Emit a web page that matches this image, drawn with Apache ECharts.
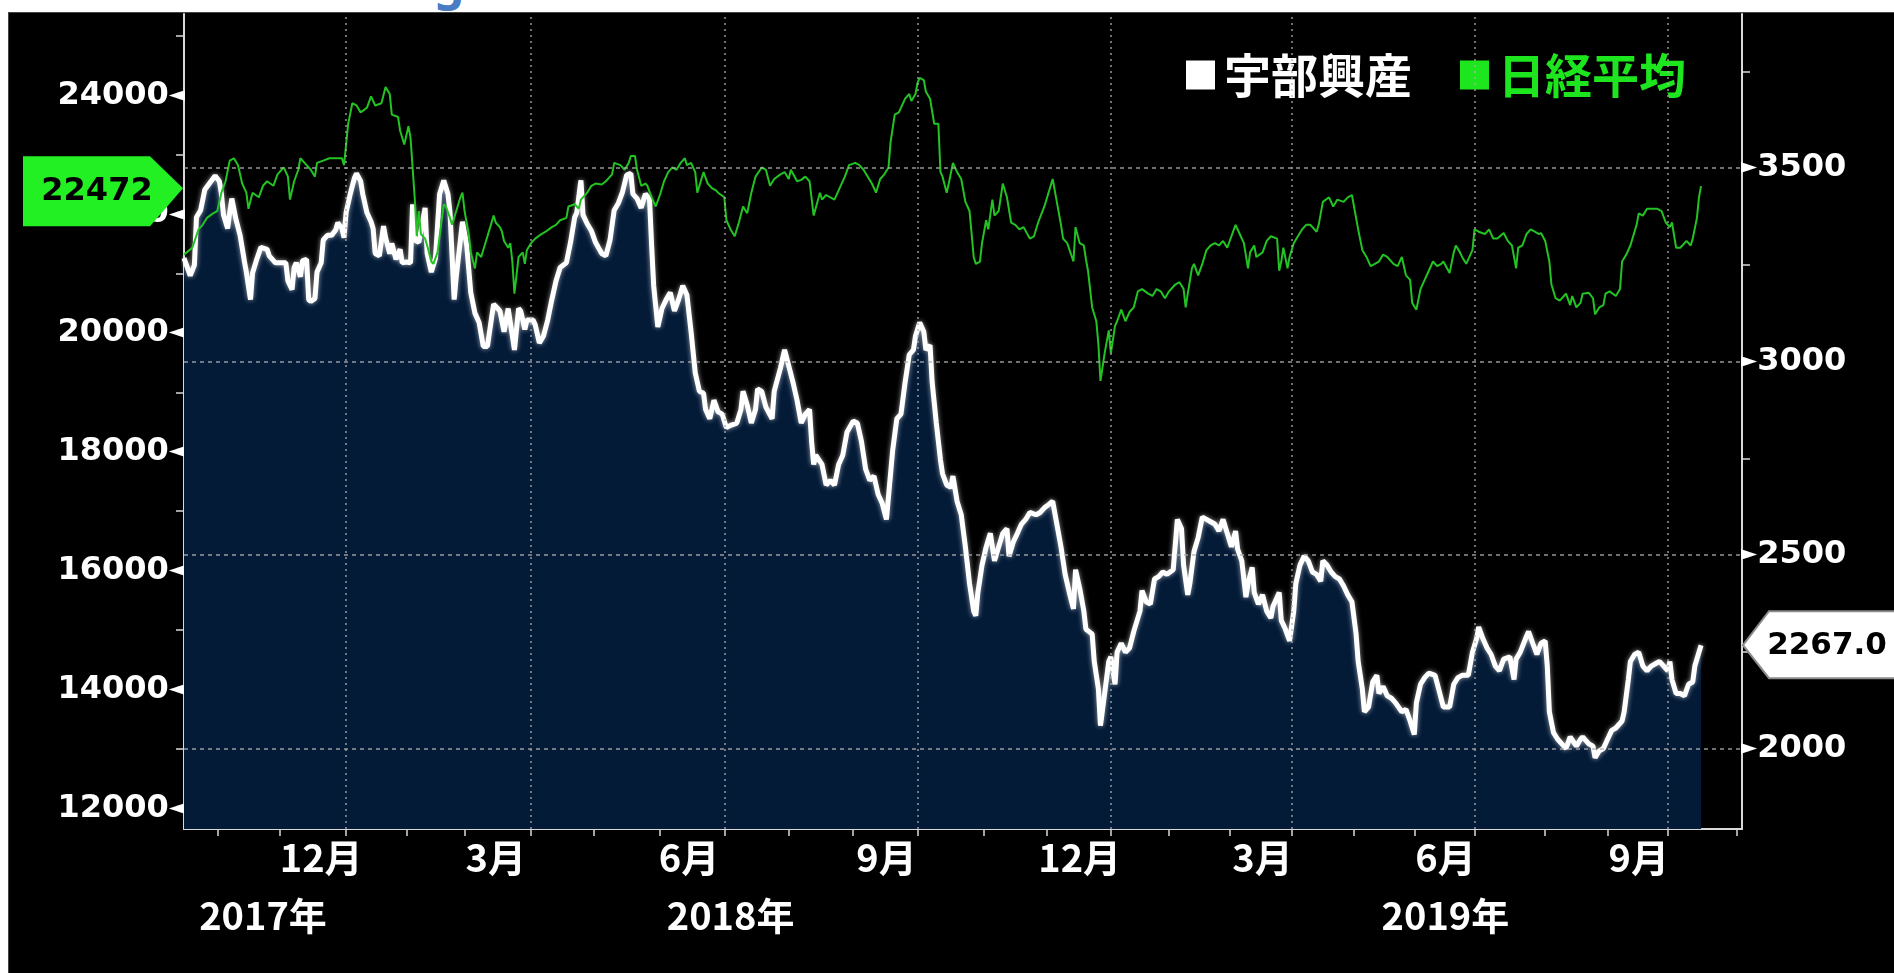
<!DOCTYPE html>
<html><head><meta charset="utf-8">
<script src="https://cdn.jsdelivr.net/npm/echarts@6/dist/echarts.min.js"></script>
<style>
html,body{margin:0;padding:0;background:#fff;overflow:hidden;width:1894px;height:973px}
#ttl{position:absolute;left:434px;top:-52px;font:bold 48px "Noto Sans";color:#4a7cc4;line-height:normal}
#bg{position:absolute;left:9px;top:13px;width:1885px;height:960px;background:#000;box-shadow:0 0 0 1px #444}
#chart{position:absolute;left:0;top:0;width:1894px;height:973px}
</style></head>
<body>
<div id="ttl">g</div>
<div id="bg"></div>
<div id="chart"></div>
<script>
// ---- data ----
const ube = [
['2017-10-16',3267],['2017-10-19',3222],['2017-10-21',3249],['2017-10-22',3373],['2017-10-24',3391],['2017-10-26',3444],['2017-10-29',3466],['2017-10-31',3480],
['2017-11-02',3466],['2017-11-03',3433],['2017-11-04',3379],['2017-11-06',3344],['2017-11-07',3385],['2017-11-08',3421],['2017-11-10',3367],['2017-11-12',3326],
['2017-11-14',3261],['2017-11-15',3231],['2017-11-17',3160],['2017-11-18',3229],['2017-11-20',3264],['2017-11-22',3295],['2017-11-25',3290],['2017-11-26',3273],
['2017-11-29',3255],['2017-12-01',3255],['2017-12-04',3255],['2017-12-05',3208],['2017-12-07',3186],['2017-12-08',3243],['2017-12-09',3255],['2017-12-11',3219],
['2017-12-12',3260],['2017-12-14',3264],['2017-12-15',3160],['2017-12-16',3155],['2017-12-18',3163],['2017-12-19',3231],['2017-12-21',3255],['2017-12-22',3314],
['2017-12-24',3326],['2017-12-26',3326],['2017-12-28',3340],['2017-12-29',3359],['2017-12-31',3344],['2018-01-01',3320],['2018-01-02',3385],['2018-01-04',3433],
['2018-01-06',3474],['2018-01-07',3486],['2018-01-09',3466],['2018-01-10',3433],['2018-01-12',3385],['2018-01-14',3361],['2018-01-15',3344],['2018-01-16',3279],
['2018-01-18',3273],['2018-01-20',3350],['2018-01-21',3320],['2018-01-23',3279],['2018-01-24',3305],['2018-01-26',3264],['2018-01-28',3290],['2018-01-29',3255],
['2018-01-31',3257],['2018-02-02',3255],['2018-02-03',3406],['2018-02-04',3314],['2018-02-06',3308],['2018-02-09',3397],['2018-02-10',3279],['2018-02-12',3231],
['2018-02-14',3267],['2018-02-16',3433],['2018-02-18',3468],['2018-02-20',3433],['2018-02-21',3385],['2018-02-23',3160],['2018-02-24',3219],['2018-02-27',3361],
['2018-03-01',3302],['2018-03-03',3178],['2018-03-05',3125],['2018-03-07',3101],['2018-03-09',3039],['2018-03-11',3039],['2018-03-13',3113],['2018-03-14',3148],
['2018-03-16',3137],['2018-03-17',3131],['2018-03-19',3077],['2018-03-21',3137],['2018-03-23',3066],['2018-03-24',3030],['2018-03-26',3137],['2018-03-27',3131],
['2018-03-29',3083],['2018-03-30',3107],['2018-04-02',3107],['2018-04-03',3095],['2018-04-05',3048],['2018-04-07',3066],['2018-04-09',3107],['2018-04-11',3160],
['2018-04-13',3208],['2018-04-15',3243],['2018-04-18',3255],['2018-04-20',3308],['2018-04-22',3373],['2018-04-23',3385],['2018-04-25',3468],['2018-04-26',3379],
['2018-04-28',3356],['2018-04-30',3338],['2018-05-02',3308],['2018-05-05',3279],['2018-05-07',3273],['2018-05-09',3314],['2018-05-11',3391],['2018-05-13',3409],
['2018-05-15',3438],['2018-05-17',3482],['2018-05-19',3486],['2018-05-20',3433],['2018-05-22',3421],['2018-05-24',3397],['2018-05-26',3433],['2018-05-28',3421],
['2018-05-29',3302],['2018-05-30',3196],['2018-06-01',3089],['2018-06-03',3137],['2018-06-05',3160],['2018-06-07',3178],['2018-06-09',3131],['2018-06-11',3160],
['2018-06-13',3196],['2018-06-15',3172],['2018-06-17',3077],['2018-06-19',2971],['2018-06-21',2923],['2018-06-23',2918],['2018-06-24',2876],['2018-06-26',2852],
['2018-06-28',2900],['2018-06-30',2870],['2018-07-02',2864],['2018-07-04',2829],['2018-07-06',2835],['2018-07-09',2841],['2018-07-11',2876],['2018-07-12',2923],
['2018-07-14',2888],['2018-07-16',2841],['2018-07-18',2876],['2018-07-19',2929],['2018-07-21',2923],['2018-07-23',2882],['2018-07-26',2852],['2018-07-27',2923],
['2018-07-30',2983],['2018-08-01',3030],['2018-08-03',2989],['2018-08-05',2947],['2018-08-07',2900],['2018-08-09',2841],['2018-08-11',2864],['2018-08-13',2876],
['2018-08-14',2793],['2018-08-15',2734],['2018-08-16',2758],['2018-08-19',2734],['2018-08-21',2681],['2018-08-23',2693],['2018-08-25',2681],['2018-08-27',2734],
['2018-08-29',2758],['2018-08-31',2817],['2018-09-03',2846],['2018-09-05',2841],['2018-09-07',2793],['2018-09-09',2722],['2018-09-11',2693],['2018-09-13',2704],
['2018-09-15',2657],['2018-09-17',2633],['2018-09-19',2592],['2018-09-20',2651],['2018-09-22',2770],['2018-09-24',2852],['2018-09-26',2864],['2018-09-28',2947],
['2018-09-30',3018],['2018-10-02',3030],['2018-10-03',3066],['2018-10-05',3101],['2018-10-07',3077],['2018-10-08',3030],['2018-10-10',3042],['2018-10-11',2947],
['2018-10-13',2841],['2018-10-15',2746],['2018-10-16',2710],['2018-10-18',2681],['2018-10-20',2675],['2018-10-21',2704],['2018-10-23',2639],['2018-10-25',2604],
['2018-10-27',2521],['2018-10-29',2426],['2018-10-31',2355],['2018-11-01',2343],['2018-11-02',2403],['2018-11-04',2474],['2018-11-06',2521],['2018-11-08',2556],
['2018-11-10',2485],['2018-11-12',2521],['2018-11-14',2556],['2018-11-16',2568],['2018-11-17',2497],['2018-11-19',2533],['2018-11-21',2556],['2018-11-23',2580],
['2018-11-25',2592],['2018-11-27',2610],['2018-11-30',2604],['2018-12-02',2610],['2018-12-04',2622],['2018-12-06',2630],['2018-12-08',2639],['2018-12-10',2580],
['2018-12-12',2521],['2018-12-14',2450],['2018-12-16',2403],['2018-12-18',2361],['2018-12-19',2462],['2018-12-21',2414],['2018-12-23',2355],['2018-12-24',2308],
['2018-12-27',2296],['2018-12-28',2225],['2018-12-30',2154],['2018-12-31',2059],['2019-01-02',2142],['2019-01-04',2225],['2019-01-05',2237],['2019-01-07',2166],
['2019-01-08',2249],['2019-01-10',2272],['2019-01-12',2249],['2019-01-14',2260],['2019-01-16',2302],['2019-01-19',2355],['2019-01-20',2408],['2019-01-22',2379],
['2019-01-24',2373],['2019-01-26',2438],['2019-01-28',2444],['2019-01-30',2456],['2019-02-01',2450],['2019-02-04',2462],['2019-02-06',2592],['2019-02-08',2568],
['2019-02-09',2474],['2019-02-11',2397],['2019-02-12',2426],['2019-02-14',2509],['2019-02-16',2545],['2019-02-18',2598],['2019-02-20',2592],['2019-02-22',2586],
['2019-02-24',2580],['2019-02-26',2562],['2019-02-28',2592],['2019-03-02',2556],['2019-03-04',2521],['2019-03-06',2562],['2019-03-07',2515],['2019-03-09',2485],
['2019-03-11',2391],['2019-03-12',2426],['2019-03-14',2468],['2019-03-15',2403],['2019-03-17',2373],['2019-03-19',2397],['2019-03-21',2355],['2019-03-23',2337],
['2019-03-24',2367],['2019-03-27',2403],['2019-03-28',2331],['2019-03-30',2308],['2019-04-01',2278],['2019-04-03',2355],['2019-04-04',2426],['2019-04-06',2474],
['2019-04-08',2497],['2019-04-10',2485],['2019-04-12',2456],['2019-04-14',2450],['2019-04-16',2432],['2019-04-17',2485],['2019-04-19',2474],['2019-04-21',2456],
['2019-04-23',2444],['2019-04-25',2438],['2019-04-27',2420],['2019-04-29',2397],['2019-05-01',2379],['2019-05-03',2296],['2019-05-04',2225],['2019-05-06',2154],
['2019-05-07',2095],['2019-05-09',2107],['2019-05-11',2172],['2019-05-13',2189],['2019-05-14',2142],['2019-05-16',2160],['2019-05-18',2136],['2019-05-20',2130],
['2019-05-22',2118],['2019-05-25',2095],['2019-05-27',2101],['2019-05-29',2071],['2019-05-31',2036],['2019-06-01',2118],['2019-06-03',2166],['2019-06-05',2183],
['2019-06-07',2195],['2019-06-10',2189],['2019-06-12',2148],['2019-06-14',2107],['2019-06-17',2107],['2019-06-19',2166],['2019-06-21',2183],['2019-06-23',2189],
['2019-06-26',2189],['2019-06-28',2249],['2019-06-30',2284],['2019-07-01',2314],['2019-07-03',2284],['2019-07-05',2260],['2019-07-07',2243],['2019-07-09',2213],
['2019-07-11',2201],['2019-07-13',2231],['2019-07-16',2237],['2019-07-18',2178],['2019-07-19',2231],['2019-07-21',2249],['2019-07-24',2290],['2019-07-25',2302],
['2019-07-27',2272],['2019-07-29',2243],['2019-07-31',2272],['2019-08-02',2278],['2019-08-03',2213],['2019-08-04',2095],['2019-08-06',2041],['2019-08-08',2024],
['2019-08-10',2012],['2019-08-12',2000],['2019-08-14',2030],['2019-08-17',2006],['2019-08-19',2024],['2019-08-20',2030],['2019-08-23',2012],['2019-08-25',2006],
['2019-08-26',1976],['2019-08-28',1994],['2019-08-30',2000],['2019-09-01',2024],['2019-09-03',2047],['2019-09-05',2053],['2019-09-08',2071],['2019-09-09',2095],
['2019-09-11',2178],['2019-09-12',2225],['2019-09-14',2243],['2019-09-16',2249],['2019-09-18',2213],['2019-09-20',2201],['2019-09-22',2213],['2019-09-24',2219],
['2019-09-26',2225],['2019-09-28',2213],['2019-09-30',2201],['2019-10-01',2225],['2019-10-02',2178],['2019-10-04',2142],['2019-10-06',2142],['2019-10-08',2136],
['2019-10-10',2166],['2019-10-12',2172],['2019-10-13',2213],['2019-10-16',2267]
];
const nikkei = [
['2017-10-16',21319],['2017-10-20',21435],['2017-10-23',21744],['2017-10-25',21821],['2017-10-27',21937],['2017-10-30',22014],['2017-11-01',22053],['2017-11-03',22362],
['2017-11-05',22555],['2017-11-07',22902],['2017-11-09',22941],['2017-11-11',22825],['2017-11-13',22516],['2017-11-15',22362],['2017-11-16',22091],['2017-11-18',22362],
['2017-11-21',22284],['2017-11-23',22478],['2017-11-25',22555],['2017-11-28',22478],['2017-11-30',22671],['2017-12-03',22787],['2017-12-05',22632],['2017-12-06',22246],
['2017-12-08',22555],['2017-12-10',22748],['2017-12-11',22941],['2017-12-14',22825],['2017-12-16',22748],['2017-12-18',22632],['2017-12-19',22864],['2017-12-22',22902],
['2017-12-25',22941],['2017-12-28',22941],['2017-12-31',22941],['2018-01-01',22825],['2018-01-03',23521],['2018-01-05',23868],['2018-01-07',23830],['2018-01-09',23714],
['2018-01-12',23791],['2018-01-14',23984],['2018-01-16',23830],['2018-01-19',23868],['2018-01-21',24139],['2018-01-23',24023],['2018-01-24',23675],['2018-01-27',23636],
['2018-01-28',23405],['2018-01-30',23173],['2018-02-01',23482],['2018-02-02',23289],['2018-02-04',22284],['2018-02-05',21628],['2018-02-06',22053],['2018-02-07',21666],
['2018-02-09',21589],['2018-02-10',21473],['2018-02-12',21203],['2018-02-13',21164],['2018-02-15',21357],['2018-02-17',21898],['2018-02-18',22168],['2018-02-19',22130],
['2018-02-21',21937],['2018-02-22',21821],['2018-02-24',22053],['2018-02-26',22284],['2018-02-27',22362],['2018-02-28',22053],['2018-03-02',21666],['2018-03-03',21357],
['2018-03-05',21087],['2018-03-06',21357],['2018-03-08',21280],['2018-03-10',21512],['2018-03-14',21976],['2018-03-15',21860],['2018-03-17',21782],['2018-03-18',21705],
['2018-03-19',21550],['2018-03-21',21435],['2018-03-22',21512],['2018-03-23',21203],['2018-03-24',20662],['2018-03-25',20971],['2018-03-26',21280],['2018-03-28',21357],
['2018-03-29',21164],['2018-03-30',21396],['2018-04-01',21512],['2018-04-03',21589],['2018-04-06',21666],['2018-04-08',21705],['2018-04-11',21782],['2018-04-13',21821],
['2018-04-15',21898],['2018-04-18',21937],['2018-04-19',22130],['2018-04-22',22168],['2018-04-24',22091],['2018-04-25',22246],['2018-04-28',22362],['2018-04-30',22478],
['2018-05-02',22516],['2018-05-05',22501],['2018-05-07',22555],['2018-05-10',22671],['2018-05-11',22864],['2018-05-14',22825],['2018-05-16',22748],['2018-05-18',22864],
['2018-05-19',22980],['2018-05-21',22980],['2018-05-22',22748],['2018-05-24',22478],['2018-05-26',22516],['2018-05-27',22478],['2018-05-29',22284],['2018-05-31',22130],
['2018-06-02',22323],['2018-06-04',22555],['2018-06-06',22709],['2018-06-08',22787],['2018-06-10',22748],['2018-06-12',22864],['2018-06-14',22941],['2018-06-15',22825],
['2018-06-17',22864],['2018-06-19',22709],['2018-06-20',22362],['2018-06-22',22593],['2018-06-23',22709],['2018-06-25',22516],['2018-06-27',22439],['2018-06-29',22400],
['2018-06-30',22362],['2018-07-03',22284],['2018-07-04',21898],['2018-07-06',21744],['2018-07-08',21628],['2018-07-10',21860],['2018-07-12',22130],['2018-07-14',22014],
['2018-07-16',22362],['2018-07-18',22632],['2018-07-21',22787],['2018-07-23',22748],['2018-07-25',22478],['2018-07-27',22593],['2018-07-30',22671],['2018-08-01',22709],
['2018-08-03',22593],['2018-08-04',22748],['2018-08-07',22555],['2018-08-09',22578],['2018-08-11',22632],['2018-08-13',22555],['2018-08-15',21976],['2018-08-18',22362],
['2018-08-19',22246],['2018-08-21',22323],['2018-08-23',22284],['2018-08-25',22246],['2018-08-27',22400],['2018-08-30',22632],['2018-09-01',22825],['2018-09-04',22864],
['2018-09-06',22825],['2018-09-08',22748],['2018-09-10',22632],['2018-09-12',22516],['2018-09-14',22362],['2018-09-16',22593],['2018-09-18',22671],['2018-09-20',22787],
['2018-09-21',23212],['2018-09-23',23675],['2018-09-25',23714],['2018-09-28',23945],['2018-09-30',24023],['2018-10-01',23907],['2018-10-03',24023],['2018-10-04',24216],
['2018-10-05',24293],['2018-10-07',24255],['2018-10-08',24061],['2018-10-10',23945],['2018-10-12',23521],['2018-10-14',23521],['2018-10-15',22709],['2018-10-16',22632],
['2018-10-18',22362],['2018-10-19',22516],['2018-10-21',22864],['2018-10-23',22709],['2018-10-25',22593],['2018-10-27',22207],['2018-10-29',22053],['2018-10-31',21280],
['2018-11-01',21164],['2018-11-03',21203],['2018-11-04',21512],['2018-11-06',21898],['2018-11-07',21744],['2018-11-09',22246],['2018-11-10',21976],['2018-11-12',22053],
['2018-11-14',22516],['2018-11-16',22284],['2018-11-18',21860],['2018-11-20',21821],['2018-11-22',21744],['2018-11-24',21782],['2018-11-27',21589],['2018-11-29',21628],
['2018-12-01',21860],['2018-12-04',22130],['2018-12-06',22362],['2018-12-08',22593],['2018-12-10',22207],['2018-12-12',21821],['2018-12-13',21589],['2018-12-15',21512],
['2018-12-18',21203],['2018-12-19',21782],['2018-12-21',21512],['2018-12-23',21473],['2018-12-24',21241],['2018-12-25',21048],['2018-12-27',20430],['2018-12-29',20198],
['2018-12-30',19812],['2018-12-31',19194],['2019-01-02',19658],['2019-01-04',20044],['2019-01-05',19658],['2019-01-07',20121],['2019-01-08',20198],['2019-01-10',20392],
['2019-01-12',20198],['2019-01-14',20353],['2019-01-16',20430],['2019-01-18',20701],['2019-01-20',20739],['2019-01-23',20662],['2019-01-25',20623],['2019-01-27',20739],
['2019-01-29',20701],['2019-01-31',20585],['2019-02-02',20701],['2019-02-05',20816],['2019-02-07',20855],['2019-02-09',20739],['2019-02-10',20430],['2019-02-11',20662],
['2019-02-13',21087],['2019-02-14',21164],['2019-02-16',20971],['2019-02-18',21164],['2019-02-20',21396],['2019-02-22',21473],['2019-02-24',21512],['2019-02-26',21473],
['2019-02-28',21550],['2019-03-02',21435],['2019-03-04',21628],['2019-03-06',21821],['2019-03-08',21666],['2019-03-10',21512],['2019-03-12',21087],['2019-03-13',21357],
['2019-03-15',21473],['2019-03-16',21280],['2019-03-19',21357],['2019-03-21',21550],['2019-03-23',21628],['2019-03-26',21589],['2019-03-27',21048],['2019-03-28',21203],
['2019-03-29',21435],['2019-03-31',21087],['2019-04-01',21280],['2019-04-03',21512],['2019-04-05',21628],['2019-04-07',21744],['2019-04-09',21821],['2019-04-11',21821],
['2019-04-14',21705],['2019-04-15',21821],['2019-04-17',22207],['2019-04-20',22284],['2019-04-22',22130],['2019-04-24',22246],['2019-04-27',22207],['2019-04-29',22284],
['2019-05-01',22323],['2019-05-02',22130],['2019-05-04',21744],['2019-05-06',21396],['2019-05-08',21280],['2019-05-10',21126],['2019-05-12',21164],['2019-05-14',21203],
['2019-05-16',21319],['2019-05-18',21280],['2019-05-21',21164],['2019-05-23',21126],['2019-05-25',21280],['2019-05-27',20971],['2019-05-29',20894],['2019-05-30',20507],
['2019-06-01',20392],['2019-06-03',20739],['2019-06-05',20894],['2019-06-07',21048],['2019-06-09',21203],['2019-06-11',21126],['2019-06-13',21164],['2019-06-14',21203],
['2019-06-17',21010],['2019-06-19',21357],['2019-06-20',21473],['2019-06-22',21357],['2019-06-23',21280],['2019-06-25',21164],['2019-06-27',21319],['2019-06-28',21396],
['2019-06-29',21744],['2019-07-01',21705],['2019-07-04',21666],['2019-07-06',21744],['2019-07-08',21589],['2019-07-10',21589],['2019-07-13',21682],['2019-07-15',21550],
['2019-07-17',21473],['2019-07-19',21087],['2019-07-20',21435],['2019-07-22',21473],['2019-07-24',21666],['2019-07-26',21744],['2019-07-28',21705],['2019-07-30',21666],
['2019-07-31',21682],['2019-08-02',21550],['2019-08-04',21203],['2019-08-05',20816],['2019-08-07',20585],['2019-08-09',20546],['2019-08-11',20623],['2019-08-12',20662],
['2019-08-14',20469],['2019-08-15',20623],['2019-08-17',20430],['2019-08-19',20507],['2019-08-20',20662],['2019-08-23',20677],['2019-08-25',20585],['2019-08-26',20314],
['2019-08-28',20430],['2019-08-30',20469],['2019-08-31',20662],['2019-09-02',20701],['2019-09-05',20623],['2019-09-07',20739],['2019-09-08',21203],['2019-09-10',21319],
['2019-09-12',21473],['2019-09-15',21821],['2019-09-16',22014],['2019-09-18',21976],['2019-09-20',22091],['2019-09-23',22091],['2019-09-25',22091],['2019-09-27',22053],
['2019-09-29',21860],['2019-10-01',21782],['2019-10-02',21860],['2019-10-04',21435],['2019-10-06',21435],['2019-10-09',21550],['2019-10-11',21473],['2019-10-12',21589],
['2019-10-14',21937],['2019-10-15',22284],['2019-10-16',22472]
];
const seriesNames = ['宇部興産', '日経平均'];
const monthLabelDates = ['2017-12-21','2018-03-15','2018-06-16','2018-09-19','2018-12-21','2019-03-19','2019-06-15','2019-09-16'];
const monthLabels = ['12月','3月','6月','9月','12月','3月','6月','9月'];
const yearLabelDates = ['2017-11-23','2018-07-06','2019-06-15'];
const yearLabels = ['2017年','2018年','2019年'];
const monthTickDates = ['2017-11-01','2017-12-01','2018-01-02','2018-01-31','2018-02-28','2018-04-01','2018-05-01','2018-06-02','2018-07-03','2018-08-03','2018-09-03','2018-10-04','2018-11-05','2018-12-05','2019-01-05','2019-02-02','2019-03-03','2019-04-02','2019-05-02','2019-05-31','2019-06-29','2019-08-02','2019-09-01','2019-09-30','2019-11-02'];
const quarterGridDates = ['2018-01-02','2018-04-01','2018-07-03','2018-10-04','2019-01-05','2019-04-02','2019-06-29','2019-09-30'];
const leftTicks = [12000,13000,14000,15000,16000,17000,18000,19000,20000,21000,22000,23000,24000,25000];
const leftLabels = [12000,14000,16000,18000,20000,22000,24000];
const rightTicks = [2000,2250,2500,2750,3000,3250,3500,3750];
const rightLabels = [2000,2500,3000,3500];

// ---- helpers ----
function T(s){const p=s.split(' ');const d=p[0].split('-').map(Number);let h=0,mi=0;if(p[1]){const t=p[1].split(':').map(Number);h=t[0];mi=t[1];}return Date.UTC(d[0],d[1]-1,d[2],h,mi);}
function labelFor(dates, labels){const ks=dates.map(T);return v=>{let best='',bd=Infinity;ks.forEach((k,i)=>{const dd=Math.abs(k-v);if(dd<bd){bd=dd;best=labels[i];}});return bd<86400000*2?best:'';};}
const X_MIN = T('2017-10-16');
const X_MAX = T('2019-11-04 16:48');
const AX = '#d9d9d9';
const numRich = {
  v:{color:'#fff',fontSize:32,fontWeight:'bold',fontFamily:'DejaVu Sans'},
  t:{color:'#fff',fontSize:21,fontFamily:'DejaVu Sans',lineHeight:32}
};
const GREEN_LINE = '#22c322';
const GREEN = '#1ee61e';
const toXY = arr => arr.map(p => [T(p[0]), p[1]]);

const chart = echarts.init(document.getElementById('chart'));
const option = {
  backgroundColor: 'transparent',
  animation: false,
  grid: {left:184, right:152, top:14, bottom:144, outerBoundsMode:'none', containLabel:false},
  legend: {
    left:1181, top:46, icon:'rect', itemWidth:29, itemHeight:29, itemGap:48, selectedMode:false,
    itemStyle:{borderWidth:0},
    textStyle:{fontSize:47, fontWeight:'bold', fontFamily:'Noto Sans CJK JP', lineHeight:48, padding:[0,0,0,4]},
    data:[
      {name:seriesNames[0], itemStyle:{color:'#fff'}, textStyle:{color:'#fff'}},
      {name:seriesNames[1], itemStyle:{color:GREEN}, textStyle:{color:GREEN}}
    ]
  },
  xAxis: [
    {type:'value', min:X_MIN, max:X_MAX, position:'bottom', scale:true,
     axisLine:{show:true, onZero:false, lineStyle:{color:AX, width:2}},
     axisTick:{show:true, customValues:monthTickDates.map(T), length:7, lineStyle:{color:AX, width:1.5}},
     axisLabel:{show:true, customValues:monthLabelDates.map(T), formatter:labelFor(monthLabelDates, monthLabels),
       color:'#fff', fontSize:38, fontWeight:'bold', fontFamily:'Noto Sans CJK JP', margin:10, hideOverlap:false},
     splitLine:{show:false}, minorTick:{show:false}},
    {type:'value', min:X_MIN, max:X_MAX, position:'bottom', scale:true,
     axisLine:{show:false, onZero:false}, axisTick:{show:false},
     axisLabel:{show:true, customValues:yearLabelDates.map(T), formatter:labelFor(yearLabelDates, yearLabels),
       color:'#fff', fontSize:38, fontWeight:'bold', fontFamily:'Noto Sans CJK JP', margin:68, hideOverlap:false},
     splitLine:{show:false}}
  ],
  yAxis: [
    {type:'value', position:'left', min:11650, max:25370,
     axisLine:{show:true, onZero:false, lineStyle:{color:AX, width:2}},
     axisTick:{show:true, customValues:leftTicks, length:8, lineStyle:{color:AX, width:1.5}},
     axisLabel:{show:true, customValues:leftLabels, margin:-1, formatter:v=>'{v|'+v+'}{t|◄}', rich:numRich},
     splitLine:{show:false}},
    {type:'value', position:'right', min:1792, max:3898,
     axisLine:{show:true, onZero:false, lineStyle:{color:AX, width:2}},
     axisTick:{show:true, customValues:rightTicks, length:8, lineStyle:{color:AX, width:1.5}},
     axisLabel:{show:true, customValues:rightLabels, margin:-1, formatter:v=>'{t|►}{v|'+v+'}', rich:numRich},
     splitLine:{show:false}}
  ],
  series: [
    {name:seriesNames[0], type:'line', xAxisIndex:0, yAxisIndex:1, data:toXY(ube), symbol:'none', showSymbol:false,
     lineStyle:{color:'#ffffff', width:5, shadowBlur:5, shadowColor:'rgba(255,255,255,0.6)'},
     itemStyle:{color:'#ffffff'},
     areaStyle:{color:'#041b38', opacity:1, origin:'start'},
     z:2,
     markLine:{silent:true, symbol:['none','none'], label:{show:false}, animation:false,
       data:[
         ...quarterGridDates.map(d=>({xAxis:T(d), lineStyle:{color:'rgba(175,175,175,0.85)', width:1.5, type:[2,4]}})),
         ...rightLabels.map(v=>({yAxis:v, lineStyle:{color:'rgba(175,175,175,0.85)', width:1.5, type:[4,4]}}))
       ]}
    },
    {name:seriesNames[1], type:'line', xAxisIndex:0, yAxisIndex:0, data:toXY(nikkei), symbol:'none', showSymbol:false,
     lineStyle:{color:GREEN_LINE, width:2}, itemStyle:{color:GREEN}, z:3}
  ]
};
chart.setOption(option);

// value tags on the axes, placed through the axes' own scales
const lastN = nikkei[nikkei.length-1][1];
const lastU = ube[ube.length-1][1];
const yN = chart.convertToPixel({yAxisIndex:0}, lastN);
const yU = chart.convertToPixel({yAxisIndex:1}, lastU);
const xL = chart.convertToPixel({xAxisIndex:0}, X_MIN);
const xR = chart.convertToPixel({xAxisIndex:0}, X_MAX);
chart.setOption({graphic:[
  {type:'polygon', z:100, shape:{points:[[23,yN-30],[xL-34,yN-30],[xL-1,yN+2],[xL-34,yN+40],[23,yN+40]]}, style:{fill:'#22f022'}},
  {type:'text', z:101, x:97, y:yN+6, style:{text:String(lastN), fill:'#000', fontSize:32, fontWeight:'bold', fontFamily:'DejaVu Sans', align:'center', verticalAlign:'middle'}},
  {type:'polygon', z:100, shape:{points:[[xR+1,yU],[xR+27,yU-34],[1900,yU-34],[1900,yU+33],[xR+27,yU+33]]}, style:{fill:'#ffffff', stroke:'#8c8c8c', lineWidth:2}},
  {type:'text', z:101, x:xR+85, y:yU+1, style:{text:lastU.toFixed(1), fill:'#000', fontSize:31, fontWeight:'bold', fontFamily:'DejaVu Sans', align:'center', verticalAlign:'middle'}}
]});
</script>
</body></html>
